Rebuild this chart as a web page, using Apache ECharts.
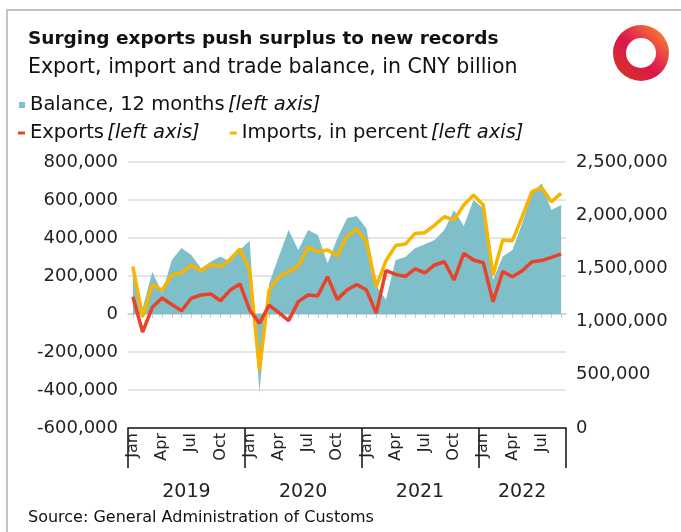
<!DOCTYPE html>
<html>
<head>
<meta charset="utf-8">
<script src="https://cdn.jsdelivr.net/npm/echarts@6/dist/echarts.min.js"></script>
<style>
  html, body { margin: 0; padding: 0; background: #fff; }
  #chart { width: 681px; height: 532px; }
</style>
</head>
<body>
<div id="chart"></div>
<script>
// 月份：2019年1月 - 2022年9月
const months = [];
['2019', '2020', '2021', '2022'].forEach(function (y) {
    ['Jan','Feb','Mar','Apr','May','Jun','Jul','Aug','Sep','Oct','Nov','Dec'].forEach(function (m) {
        if (y === '2022' && months.filter(function (s) { return s.indexOf('2022') === 0; }).length >= 9) return;
        months.push(y + '-' + m);
    });
});
const years = ['2019', '2020', '2021', '2022'];
const shownMonths = ['Jan', 'Apr', 'Jul', 'Oct'];

// 贸易差额（左轴）
const balance = [260000, 30000, 223000, 110000, 284000, 347000, 310000, 241000, 275000, 302000, 275000, 337000,
    386000, -416000, 161000, 302000, 442000, 337000, 442000, 416000, 267000, 398000, 504000, 516000,
    450000, 150000, 75000, 284000, 300000, 346000, 367000, 389000, 442000, 547000, 463000, 600000,
    556000, 179000, 302000, 337000, 477000, 635000, 688000, 547000, 574000];
// 出口
const exportsData = [91000, -95000, 35000, 84000, 50000, 17000, 83000, 100000, 105000, 70000, 126000, 158000,
    21000, -49000, 47000, 7000, -35000, 65000, 100000, 96000, 196000, 77000, 126000, 155000,
    126000, 5000, 228000, 208000, 198000, 238000, 217000, 258000, 275000, 179000, 319000, 284000,
    270000, 65000, 223000, 196000, 228000, 275000, 281000, 298000, 316000];
// 进口
const importsData = [249000, -15000, 155000, 125000, 205000, 217000, 258000, 228000, 261000, 249000, 288000, 342000,
    232000, -295000, 126000, 196000, 223000, 253000, 351000, 328000, 337000, 305000, 410000, 446000,
    380000, 144000, 280000, 360000, 368000, 424000, 428000, 468000, 512000, 495000, 574000, 626000,
    574000, 205000, 389000, 386000, 512000, 644000, 665000, 591000, 635000];

const leftTicks = { min: -600000, max: 800000, interval: 200000 };
const rightTicks = { min: 0, max: 2500000, interval: 500000 };

// 年份标签放在每年区间的中点
const yearCentre = {};
years.forEach(function (y) {
    const idx = months.map(function (m, i) { return m.indexOf(y) === 0 ? i : -1; }).filter(function (i) { return i >= 0; });
    yearCentre[(idx[0] + idx[idx.length - 1] + 1) / 2] = y;
});

const fmt = function (v) { return v.toLocaleString('en-US'); };
const font = 'DejaVu Sans';
const legendNames = {
    'Balance': '{n|Balance, 12 months} {i|[left axis]}',
    'Exports': '{n|Exports} {i|[left axis]}',
    'Imports': '{n|Imports, in percent} {i|[left axis]}'
};
const legendRich = {
    n: { fontSize: 19.5, fontFamily: font, color: '#111' },
    i: { fontSize: 19.5, fontFamily: font, color: '#111', fontStyle: 'italic' }
};

const myChart = echarts.init(document.getElementById('chart'));
myChart.setOption({
    animation: false,
    backgroundColor: '#fff',
    title: {
        text: 'Surging exports push surplus to new records',
        subtext: 'Export, import and trade balance, in CNY billion',
        left: 23,
        top: 25,
        itemGap: 8,
        textStyle: { fontSize: 18.5, fontWeight: 'bold', color: '#111', fontFamily: font },
        subtextStyle: { fontSize: 20.5, color: '#111', fontFamily: font }
    },
    legend: [{
        data: ['Balance'],
        left: 14,
        top: 90,
        icon: 'rect',
        itemWidth: 6,
        itemHeight: 6,
        itemGap: 24,
        formatter: function (n) { return legendNames[n]; },
        textStyle: { rich: legendRich }
    }, {
        data: ['Exports', 'Imports'],
        left: 13,
        top: 118,
        icon: 'rect',
        itemWidth: 7,
        itemHeight: 3,
        itemGap: 30,
        formatter: function (n) { return legendNames[n]; },
        textStyle: { rich: legendRich }
    }],
    grid: { left: 128, right: 115, top: 162, bottom: 104, outerBoundsMode: 'none' },
    xAxis: [{
        type: 'category',
        data: months,
        position: 'bottom',
        boundaryGap: true,
        z: 5,
        axisLine: { show: true, onZero: false, lineStyle: { color: '#111', width: 1.5 } },
        axisTick: {
            show: true,
            interval: function (i) { return i % 12 === 0; },
            length: 40,
            lineStyle: { color: '#111', width: 1.5 }
        },
        axisLabel: {
            interval: function (i, v) { return shownMonths.indexOf(v.split('-')[1]) >= 0; },
            formatter: function (v) { return v.split('-')[1]; },
            rotate: 90,
            margin: 5,
            fontSize: 16,
            fontFamily: font,
            color: '#222'
        },
        splitLine: { show: false }
    }, {
        type: 'category',
        data: months,
        position: 'bottom',
        boundaryGap: true,
        axisLine: { show: true, onZero: true, lineStyle: { color: '#cfcfcf', width: 1.5 } },
        axisTick: { show: true, alignWithLabel: true, interval: 0, length: 4, lineStyle: { color: '#c8c8c8' } },
        axisLabel: { show: false },
        splitLine: { show: false }
    }, {
        type: 'value',
        min: 0,
        max: months.length,
        interval: 0.5,
        position: 'bottom',
        offset: 51,
        axisLine: { show: false },
        axisTick: { show: false },
        splitLine: { show: false },
        axisLabel: {
            margin: 4,
            fontSize: 19,
            fontFamily: font,
            color: '#222',
            formatter: function (v) { return yearCentre[v] || ''; }
        }
    }],
    yAxis: [{
        type: 'value',
        min: leftTicks.min,
        max: leftTicks.max,
        interval: leftTicks.interval,
        axisLine: { show: false },
        axisTick: { show: false },
        axisLabel: { formatter: fmt, fontSize: 18, fontFamily: font, color: '#222', margin: 10 },
        splitLine: { showMinLine: false, lineStyle: { color: '#dcdcdc', width: 1.5 } }
    }, {
        type: 'value',
        position: 'right',
        min: rightTicks.min,
        max: rightTicks.max,
        interval: rightTicks.interval,
        axisLine: { show: false },
        axisTick: { show: false },
        axisLabel: { formatter: fmt, fontSize: 18, fontFamily: font, color: '#222', margin: 10 },
        splitLine: { show: false }
    }],
    series: [{
        name: 'Balance',
        type: 'line',
        data: balance,
        symbol: 'none',
        color: '#7fbfc9',
        lineStyle: { width: 0 },
        areaStyle: { color: '#7fbfc9', opacity: 1 },
        z: 1
    }, {
        name: 'Imports',
        type: 'line',
        data: importsData,
        symbol: 'none',
        color: '#f7b500',
        lineStyle: { width: 3.5, color: '#f7b500' },
        z: 3
    }, {
        name: 'Exports',
        type: 'line',
        data: exportsData,
        symbol: 'none',
        color: '#e8432a',
        lineStyle: { width: 3.5, color: '#e8432a' },
        z: 4
    }],
    graphic: [{
        type: 'rect',
        shape: { x: 7, y: 10, width: 700, height: 600 },
        style: { fill: 'none', stroke: '#c4c4c4', lineWidth: 2 },
        silent: true
    }, {
        type: 'ring',
        shape: { cx: 641, cy: 53, r: 28, r0: 15 },
        style: {
            fill: new echarts.graphic.LinearGradient(0, 1, 1, 0, [
                { offset: 0, color: '#d93a1a' },
                { offset: 0.45, color: '#d9184a' },
                { offset: 0.6, color: '#e8304a' },
                { offset: 1, color: '#f5a020' }
            ])
        },
        silent: true
    }, {
        type: 'text',
        left: 28,
        top: 510,
        style: { text: 'Source: General Administration of Customs', fontSize: 16, fontFamily: font, fill: '#111' },
        silent: true
    }]
});
</script>
</body>
</html>
